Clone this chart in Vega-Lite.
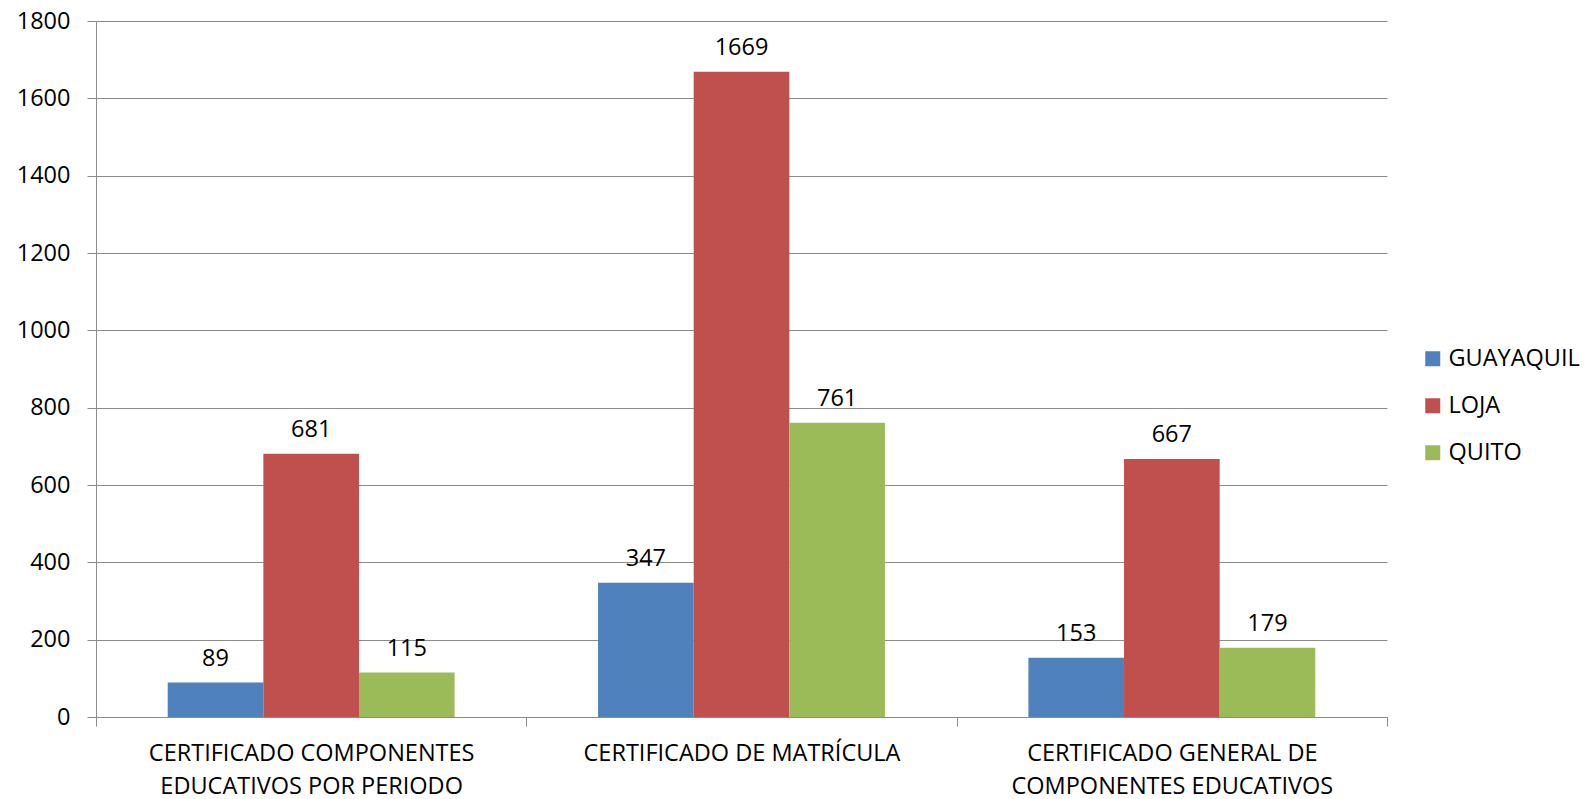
{
  "$schema": "https://vega.github.io/schema/vega-lite/v6.json",
  "width": 1291,
  "height": 696,
  "autosize": {"type": "none"},
  "padding": {"left": 96, "top": 21, "right": 199, "bottom": 82},
  "background": "white",
  "config": {
    "view": {"stroke": null},
    "font": "Open Sans",
    "axis": {"labelFont": "Open Sans", "labelColor": "#000000", "titleFont": "Open Sans"},
    "legend": {"labelFont": "Open Sans"}
  },
  "data": {
    "values": [
      {"category": "CERTIFICADO COMPONENTES EDUCATIVOS POR PERIODO", "city": "GUAYAQUIL", "value": 89},
      {"category": "CERTIFICADO COMPONENTES EDUCATIVOS POR PERIODO", "city": "LOJA", "value": 681},
      {"category": "CERTIFICADO COMPONENTES EDUCATIVOS POR PERIODO", "city": "QUITO", "value": 115},
      {"category": "CERTIFICADO DE MATRÍCULA", "city": "GUAYAQUIL", "value": 347},
      {"category": "CERTIFICADO DE MATRÍCULA", "city": "LOJA", "value": 1669},
      {"category": "CERTIFICADO DE MATRÍCULA", "city": "QUITO", "value": 761},
      {"category": "CERTIFICADO GENERAL DE COMPONENTES EDUCATIVOS", "city": "GUAYAQUIL", "value": 153},
      {"category": "CERTIFICADO GENERAL DE COMPONENTES EDUCATIVOS", "city": "LOJA", "value": 667},
      {"category": "CERTIFICADO GENERAL DE COMPONENTES EDUCATIVOS", "city": "QUITO", "value": 179}
    ]
  },
  "encoding": {
    "x": {
      "field": "category",
      "type": "nominal",
      "sort": null,
      "scale": {"paddingInner": 0, "paddingOuter": 0},
      "axis": {
        "title": null,
        "orient": "bottom",
        "labelAngle": 0,
        "tickBand": "extent",
        "ticks": true,
        "tickSize": 9,
        "tickColor": "#8c8c8c",
        "domainColor": "#8c8c8c",
        "domainWidth": 1,
        "tickWidth": 1,
        "grid": false,
        "labelFontSize": 23.5,
        "labelBaseline": "alphabetic",
        "labelPadding": 34,
        "labelLineHeight": 33,
        "labelLimit": 0,
        "labelExpr": "datum.value == 'CERTIFICADO COMPONENTES EDUCATIVOS POR PERIODO' ? ['CERTIFICADO COMPONENTES', 'EDUCATIVOS POR PERIODO'] : datum.value == 'CERTIFICADO GENERAL DE COMPONENTES EDUCATIVOS' ? ['CERTIFICADO GENERAL DE', 'COMPONENTES EDUCATIVOS'] : datum.value"
      }
    },
    "xOffset": {
      "field": "city",
      "type": "nominal",
      "scale": {"paddingInner": 0, "paddingOuter": 0.75}
    },
    "y": {
      "field": "value",
      "type": "quantitative",
      "scale": {"domain": [0, 1800], "nice": false},
      "axis": {
        "title": null,
        "format": "d",
        "values": [0, 200, 400, 600, 800, 1000, 1200, 1400, 1600, 1800],
        "grid": true,
        "gridColor": "#8c8c8c",
        "gridWidth": 1,
        "tickColor": "#8c8c8c",
        "tickSize": 9,
        "domainColor": "#8c8c8c",
        "labelFontSize": 23.5,
        "labelPadding": 17,
        "labelBaseline": "middle"
      }
    }
  },
  "layer": [
    {
      "mark": {"type": "bar", "stroke": null},
      "encoding": {
        "color": {
          "field": "city",
          "type": "nominal",
          "scale": {"domain": ["GUAYAQUIL", "LOJA", "QUITO"], "range": ["#4F81BD", "#C0504D", "#9BBB59"]},
          "legend": {
            "title": null,
            "orient": "none",
            "legendX": 1325,
            "legendY": 326,
            "padding": 0,
            "symbolType": "square",
            "symbolSize": 225,
            "symbolStrokeWidth": 0,
            "symbolOpacity": 1,
            "labelFontSize": 23.5,
            "labelColor": "#000000",
            "labelOffset": 4,
            "rowPadding": 22,
            "labelLimit": 0
          }
        }
      }
    },
    {
      "mark": {"type": "text", "baseline": "alphabetic", "dy": -17, "fontSize": 23.5, "font": "Open Sans", "color": "#000000"},
      "encoding": {
        "text": {"field": "value", "type": "quantitative"}
      }
    }
  ]
}
